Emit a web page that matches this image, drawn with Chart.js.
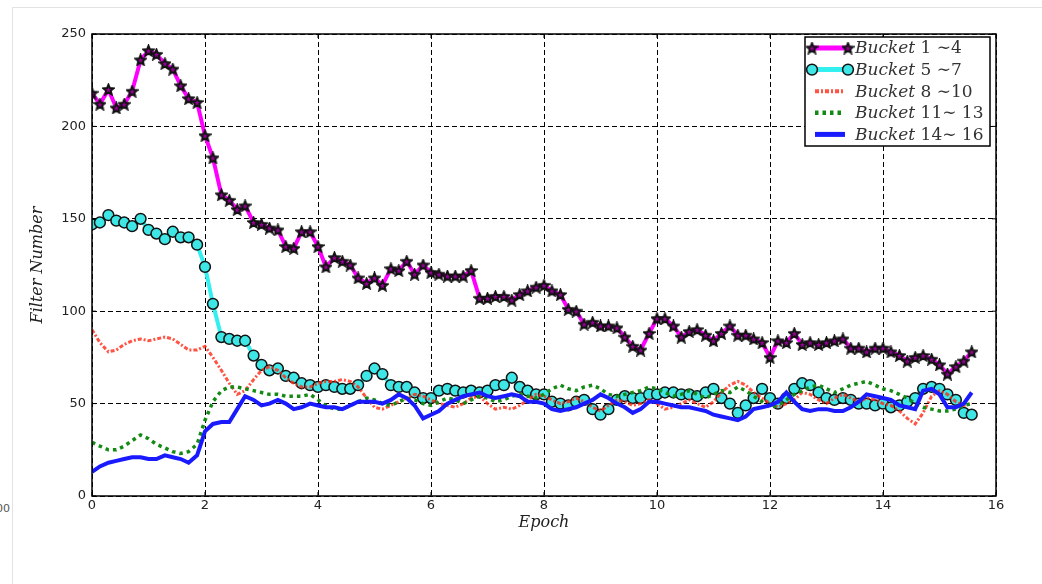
<!DOCTYPE html>
<html>
<head>
<meta charset="utf-8">
<script src="https://cdn.jsdelivr.net/npm/chart.js@4.4.1/dist/chart.umd.min.js"></script>
<style>
  html, body { margin: 0; padding: 0; background: #fff; }
  #wrap { position: relative; width: 1042px; height: 584px; overflow: hidden; }
  #edge { position: absolute; left: 12px; top: 7px; right: -2px; bottom: -2px; border-top: 1px solid #e3e3e3; border-left: 1px solid #e3e3e3; }
  #stray { position: absolute; left: -4px; top: 502px; font: 11px "DejaVu Sans"; color: #555; }
  canvas { position: absolute; left: 0; top: 0; }
</style>
</head>
<body>
<div id="wrap">
  <div id="edge"></div>
  <span id="stray">00</span>
  <canvas id="chart" width="1042" height="584"></canvas>
</div>
<script>
// epochs (7 samples per epoch)
const epochs = [
  0, 0.14, 0.29, 0.43, 0.57, 0.71, 0.86,
  1, 1.14, 1.29, 1.43, 1.57, 1.71, 1.86,
  2, 2.14, 2.29, 2.43, 2.57, 2.71, 2.86,
  3, 3.14, 3.29, 3.43, 3.57, 3.71, 3.86,
  4, 4.14, 4.29, 4.43, 4.57, 4.71, 4.86,
  5, 5.14, 5.29, 5.43, 5.57, 5.71, 5.86,
  6, 6.14, 6.29, 6.43, 6.57, 6.71, 6.86,
  7, 7.14, 7.29, 7.43, 7.57, 7.71, 7.86,
  8, 8.14, 8.29, 8.43, 8.57, 8.71, 8.86,
  9, 9.14, 9.29, 9.43, 9.57, 9.71, 9.86,
  10, 10.14, 10.29, 10.43, 10.57, 10.71, 10.86,
  11, 11.14, 11.29, 11.43, 11.57, 11.71, 11.86,
  12, 12.14, 12.29, 12.43, 12.57, 12.71, 12.86,
  13, 13.14, 13.29, 13.43, 13.57, 13.71, 13.86,
  14, 14.14, 14.29, 14.43, 14.57, 14.71, 14.86,
  15, 15.14, 15.29, 15.43, 15.57
]

const bucket1to4 = [
  218, 212, 220, 210, 212, 219, 236, 241, 239, 234, 231, 222, 215, 213,
  195, 183, 163, 160, 155, 157, 148, 147, 145,
  144, 135, 134, 143, 143, 135, 124, 129, 127, 125, 118, 115, 118, 114, 123, 122, 127, 120, 125, 121, 120, 119,
  119, 119, 122, 107, 107, 108, 108, 106, 109, 111, 113, 114, 111, 109, 101, 100, 93, 94, 92, 92, 91, 86, 81,
  79, 88, 96, 96, 92, 86, 89, 90, 87, 84, 88, 92, 87, 87, 85, 83, 75, 84, 83, 88, 82, 83,
  82, 83, 84, 85, 80, 80, 78, 80, 80, 78, 76, 73, 75, 76, 74, 71, 66, 70, 73, 78
]
const bucket5to7 = [
  147, 148, 152, 149, 148, 146, 150, 144, 142, 139, 143, 140, 140, 136,
  124, 104, 86, 85, 84, 84, 76,
  71, 68, 69, 65, 64, 61, 60,
  59, 60, 59, 58, 58, 60, 65,
  69, 66, 60, 59, 59, 56, 53,
  53, 57, 58, 57, 56, 57, 56,
  57, 60, 60, 64, 59, 57, 55,
  55, 51, 50, 49, 51, 52, 47,
  44, 47, 52, 54, 53, 53, 55,
  55, 56, 56, 55, 55, 54, 56,
  58, 53, 50, 45, 49, 53, 58,
  53, 50, 53, 58, 61, 60, 56,
  53, 52, 53, 52, 50, 50, 49,
  50, 48, 49, 51, 53, 58, 59,
  58, 55, 52, 45, 44
]
const bucket8to10 = [
  90, 83, 78, 79, 82, 84, 85, 84, 85, 86,
  85, 82, 79, 79, 81, 75, 68, 61, 55, 57,
  63, 68, 70, 68, 64, 61, 59, 59, 61, 62,
  62, 63, 62, 59, 53, 48, 47, 49, 51, 53,
  55, 54, 52, 50, 49, 48, 50, 53, 54, 50,
  47, 48, 47, 49, 52, 55, 54, 52, 50, 51,
  53, 51, 48, 46, 49, 52, 51, 49, 50, 52,
  50, 47, 48, 50, 52, 50, 48, 51, 56, 60,
  62, 60, 56, 53, 50, 48, 50, 52, 56, 55,
  52, 50, 53, 55, 53, 51, 53, 52, 50, 49,
  46, 42, 39, 45, 54, 57, 55, 51, 49, 50
]
const bucket11to13 = [
  29, 27, 25, 25, 27, 30, 33, 31, 28, 26,
  24, 23, 24, 28, 41, 51, 57, 59, 59, 58,
  57, 56, 55, 55, 54, 54, 54, 55, 52, 49,
  47, 47, 49, 51, 53, 52, 50, 49, 51, 53,
  52, 50, 49, 51, 53, 52, 50, 52, 54, 53,
  51, 52, 54, 55, 54, 53, 55, 58, 60, 58,
  57, 59, 60, 58, 55, 54, 55, 56, 57, 59,
  58, 56, 54, 55, 57, 55, 53, 55, 57, 56,
  59, 57, 54, 51, 48, 49, 52, 55, 57, 59,
  60, 58, 56, 58, 60, 61, 62, 60, 58, 57,
  55, 53, 50, 48, 47, 46, 46, 47, 49, 50
]
const bucket14to16 = [
  13, 16, 18, 19, 20, 21, 21, 20, 20, 22,
  21, 20, 18, 22, 35, 39, 40, 40, 47, 54,
  52, 49, 50, 52, 50, 47, 48, 50, 49, 48,
  48, 47, 49, 51, 51, 51, 50, 52, 55, 53,
  49, 42, 44, 46, 50, 52, 54, 55, 56, 54,
  53, 54, 55, 54, 51, 51, 50, 47, 46, 47,
  48, 50, 52, 55, 53, 50, 48, 45, 47, 51,
  51, 50, 49, 48, 48, 47, 46, 44, 43, 42,
  41, 43, 47, 48, 49, 51, 56, 51, 47, 46,
  47, 47, 46, 46, 48, 51, 55, 54, 53, 52,
  49, 48, 47, 57, 58, 55, 48, 48, 50, 56
]

const seriesNames = ['Bucket 1', 'Bucket 5', 'Bucket 8', 'Bucket 11', 'Bucket 14']
const rangeText = ['1 \u223c4', '5 \u223c7', '8 \u223c10', '11\u223c 13', '14\u223c 16']
const xTicks = [0, 2, 4, 6, 8, 10, 12, 14, 16]
const yTicks = [0, 50, 100, 150, 200, 250]

function toPoints(values) {
  return values.map((v, i) => ({ x: epochs[i], y: v }))
}

// filled star marker like matplotlib '*'
function makeStar(size) {
  const c = document.createElement('canvas')
  c.width = c.height = size
  const g = c.getContext('2d')
  const cx = size / 2, cy = size / 2 + 0.5, R = size / 2 - 1.2, r = R * 0.45
  g.beginPath()
  for (let k = 0; k < 10; k++) {
    const ang = -Math.PI / 2 + k * Math.PI / 5
    const rad = k % 2 === 0 ? R : r
    g.lineTo(cx + rad * Math.cos(ang), cy + rad * Math.sin(ang))
  }
  g.closePath()
  g.fillStyle = '#9a009a'
  g.fill()
  g.lineWidth = 2
  g.strokeStyle = '#111'
  g.stroke()
  return c
}
const starImg = makeStar(13)

const datasets = [
  {
    label: seriesNames[0],
    data: toPoints(bucket1to4),
    borderColor: '#ff00ff',
    borderWidth: 4,
    pointStyle: starImg,
    pointRadius: 6,
    order: 4
  },
  {
    label: seriesNames[1],
    data: toPoints(bucket5to7),
    borderColor: '#33f0f0',
    borderWidth: 4,
    pointStyle: 'circle',
    pointRadius: 5.4,
    pointBackgroundColor: '#3ee6e6',
    pointBorderColor: '#111',
    pointBorderWidth: 1.5,
    order: 3
  },
  {
    label: seriesNames[2],
    data: toPoints(bucket8to10),
    borderColor: 'rgba(255, 40, 20, 0.8)',
    borderWidth: 3,
    borderDash: [4, 2, 2, 2],
    pointRadius: 0,
    order: 2
  },
  {
    label: seriesNames[3],
    data: toPoints(bucket11to13),
    borderColor: '#138a13',
    borderWidth: 3.5,
    borderDash: [3.5, 4],
    pointRadius: 0,
    order: 1
  },
  {
    label: seriesNames[4],
    data: toPoints(bucket14to16),
    borderColor: '#1a1aff',
    borderWidth: 4,
    pointRadius: 0,
    order: 0
  }
]

const frameAndLegend = {
  id: 'frameAndLegend',
  afterDatasetsDraw(chart) {
    const { ctx, chartArea: a, scales } = chart
    ctx.save()
    ctx.strokeStyle = '#000'
    ctx.lineWidth = 1.5
    ctx.setLineDash([])
    ctx.strokeRect(a.left, a.top, a.right - a.left, a.bottom - a.top)
    // inward tick marks
    ctx.lineWidth = 1
    ctx.beginPath()
    xTicks.forEach(t => {
      const px = scales.x.getPixelForValue(t)
      ctx.moveTo(px, a.bottom); ctx.lineTo(px, a.bottom - 4)
      ctx.moveTo(px, a.top); ctx.lineTo(px, a.top + 4)
    })
    yTicks.forEach(t => {
      const py = scales.y.getPixelForValue(t)
      ctx.moveTo(a.left, py); ctx.lineTo(a.left + 4, py)
      ctx.moveTo(a.right, py); ctx.lineTo(a.right - 4, py)
    })
    ctx.stroke()
    ctx.restore()
  },
  afterDraw(chart) {
    const { ctx, chartArea: a } = chart
    const w = 185, h = 109
    const bx = a.right - 6 - w, by = a.top + 3
    ctx.save()
    ctx.fillStyle = '#fff'
    ctx.fillRect(bx, by, w, h)
    ctx.strokeStyle = '#000'
    ctx.lineWidth = 1.5
    ctx.strokeRect(bx, by, w, h)
    chart.data.datasets.forEach((ds, i) => {
      const y = by + 11 + i * 21.6
      const x0 = bx + 7, x1 = bx + 43
      ctx.save()
      ctx.strokeStyle = ds.borderColor
      ctx.lineWidth = ds.borderWidth + 1
      ctx.setLineDash(ds.borderDash || [])
      ctx.beginPath()
      ctx.moveTo(i > 1 ? x0 + 3 : x0, y)
      ctx.lineTo(i > 1 ? x1 - 3 : x1, y)
      ctx.stroke()
      ctx.setLineDash([])
      if (ds.pointStyle === 'circle') {
        ;[x0, x1].forEach(px => {
          ctx.beginPath()
          ctx.arc(px, y, ds.pointRadius, 0, Math.PI * 2)
          ctx.fillStyle = ds.pointBackgroundColor
          ctx.fill()
          ctx.lineWidth = ds.pointBorderWidth
          ctx.strokeStyle = ds.pointBorderColor
          ctx.stroke()
        })
      } else if (ds.pointStyle === starImg) {
        ;[x0, x1].forEach(px => ctx.drawImage(starImg, px - 6.5, y - 6.5))
      }
      ctx.restore()
      ctx.fillStyle = '#333'
      ctx.textBaseline = 'middle'
      ctx.font = 'italic 17px "DejaVu Serif"'
      const word = ds.label.split(' ')[0]
      ctx.fillText(word, bx + 50, y + 1)
      const ww = ctx.measureText(word + ' ').width
      ctx.font = '17px "DejaVu Serif"'
      ctx.fillText(rangeText[i], bx + 50 + ww, y + 1)
    })
    ctx.restore()
  }
}

const ctx = document.getElementById('chart').getContext('2d')
let lineChart = new Chart(ctx, {
  type: 'line',
  data: { datasets: datasets },
  plugins: [frameAndLegend],
  options: {
    responsive: false,
    animation: false,
    layout: { padding: { top: 34, right: 46, left: 0, bottom: 0 } },
    plugins: {
      legend: { display: false },
      tooltip: { enabled: false }
    },
    elements: { line: { tension: 0 } },
    scales: {
      x: {
        type: 'linear',
        min: 0,
        max: 16,
        afterFit(scale) { scale.height = 88 },
        afterBuildTicks(scale) { scale.ticks = xTicks.map(v => ({ value: v })) },
        ticks: { color: '#222', font: { family: 'DejaVu Sans', size: 13 }, padding: 2, maxRotation: 0 },
        grid: { color: '#000', lineWidth: 1, drawTicks: false },
        border: { display: false, dash: [5, 3] },
        title: {
          display: true,
          text: 'Epoch',
          color: '#222',
          font: { family: 'DejaVu Serif', size: 16, style: 'italic' },
          padding: { top: 0, bottom: 52 }
        }
      },
      y: {
        min: 0,
        max: 250,
        afterFit(scale) { scale.width = 92 },
        afterBuildTicks(scale) { scale.ticks = yTicks.map(v => ({ value: v })) },
        ticks: { color: '#222', font: { family: 'DejaVu Sans', size: 13 }, padding: 6 },
        grid: { color: '#000', lineWidth: 1, drawTicks: false },
        border: { display: false, dash: [5, 3] },
        title: {
          display: true,
          text: 'Filter Number',
          color: '#222',
          font: { family: 'DejaVu Serif', size: 16, style: 'italic' },
          padding: { top: 28, bottom: 0 }
        }
      }
    }
  }
})
</script>
</body>
</html>
